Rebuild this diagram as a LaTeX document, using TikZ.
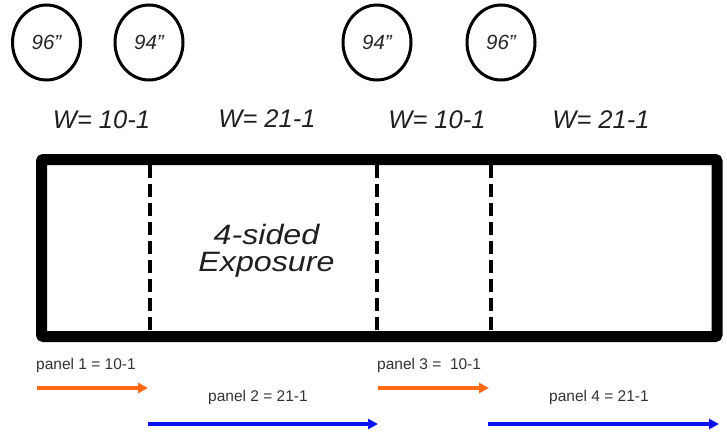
\documentclass[tikz,border=0pt]{standalone}
\usepackage{fontspec}
\setmainfont{Liberation Sans}
\usetikzlibrary{arrows.meta,shapes.geometric}
\definecolor{arrorange}{HTML}{FF6A13}
\definecolor{arrblue}{HTML}{0A14F0}
\definecolor{txtgray}{HTML}{333333}
\tikzset{
  ring/.style={draw=black, line width=3pt, ellipse, minimum width=68pt, minimum height=75pt, inner sep=0pt, font=\itshape\fontsize{20.5}{20}\selectfont, text=black!85},
  wlabel/.style={font=\itshape\fontsize{25.5}{26}\selectfont, text=black!88, inner sep=0pt},
  plabel/.style={font=\fontsize{15.5}{16}\selectfont, text=txtgray, inner sep=0pt, anchor=west},
  divider/.style={line width=4.5pt, dash pattern=on 13pt off 6pt},
  orangearrow/.style={draw=arrorange, line width=3.5pt, -{Triangle[length=10pt,width=10pt]}},
  bluearrow/.style={draw=arrblue, line width=3.5pt, -{Triangle[length=10pt,width=10pt]}}
}
\begin{document}
\begin{tikzpicture}[x=1pt,y=-1pt]
\useasboundingbox (0,0) rectangle (727,434);
% circles
\node[ring] (c1) at (46.5,42.5) {96"};
\node[ring] (c2) at (149,42.5) {94"};
\node[ring] (c3) at (377,42.5) {94"};
\node[ring] (c4) at (501,42.5) {96"};
% W labels
\node[wlabel] (w1) at (101.5,120) {W= 10-1};
\node[wlabel] (w2) at (267,119) {W= 21-1};
\node[wlabel] (w3) at (437,120) {W= 10-1};
\node[wlabel] (w4) at (601,120) {W= 21-1};
% main box
\draw[line width=11pt, rounded corners=2pt] (41.5,159.5) rectangle (717,336.5);
% dividers
\coordinate (d1t) at (150,165); \coordinate (d1b) at (150,331);
\coordinate (d2t) at (377,165); \coordinate (d2b) at (377,331);
\coordinate (d3t) at (491,165); \coordinate (d3b) at (491,331);
\draw[divider] (d1t) -- (d1b);
\draw[divider] (d2t) -- (d2b);
\draw[divider] (d3t) -- (d3b);
% center text
\node[font=\itshape\fontsize{28}{27}\selectfont, align=center, inner sep=0pt, text=black!88, xscale=1.15, transform shape] (expo) at (266.5,251) {4-sided\\Exposure};
% panel labels
\node[plabel] (p1) at (36,365) {panel 1 = 10-1};
\node[plabel] (p2) at (208,397) {panel 2 = 21-1};
\node[plabel] (p3) at (377,365) {panel 3 = \ 10-1};
\node[plabel] (p4) at (549,397) {panel 4 = 21-1};
% arrows
\coordinate (a1s) at (37,388); \coordinate (a1e) at (148,388);
\coordinate (a2s) at (148,424); \coordinate (a2e) at (378,424);
\coordinate (a3s) at (378,388); \coordinate (a3e) at (489,388);
\coordinate (a4s) at (488,424); \coordinate (a4e) at (719,424);
\draw[orangearrow] (a1s) -- (a1e);
\draw[bluearrow] (a2s) -- (a2e);
\draw[orangearrow] (a3s) -- (a3e);
\draw[bluearrow] (a4s) -- (a4e);
\end{tikzpicture}
\end{document}
